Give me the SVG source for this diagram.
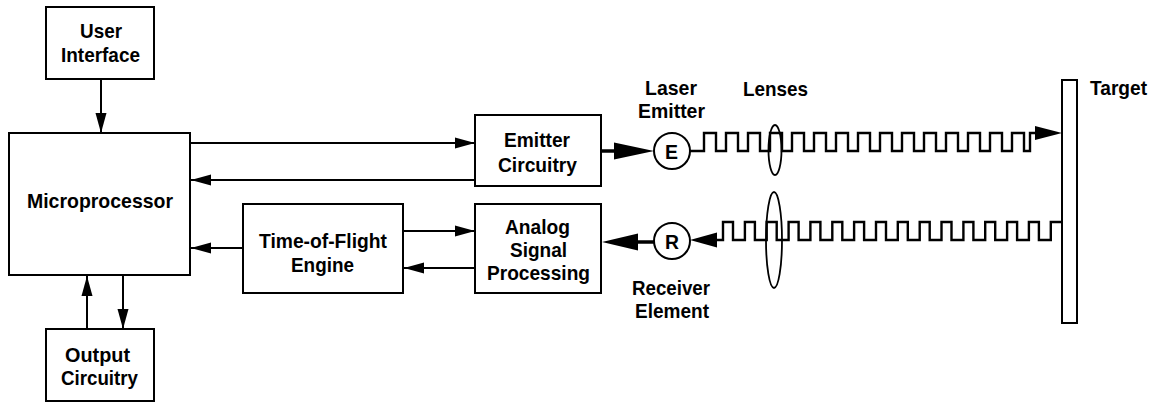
<svg xmlns="http://www.w3.org/2000/svg" width="1156" height="403" viewBox="0 0 1156 403">
<style>
  .box { fill: #fff; stroke: #000; stroke-width: 2; }
  .ln { fill: none; stroke: #000; stroke-width: 2; }
  .thick { fill: none; stroke: #000; stroke-width: 3.5; }
  .wave { fill: none; stroke: #000; stroke-width: 2.4; stroke-linejoin: miter; }
  .lens { fill: none; stroke: #000; stroke-width: 1.8; }
  .head { fill: #000; stroke: none; }
  text { font-family: "Liberation Sans", Arial, sans-serif; font-weight: bold; font-size: 21px; fill: #000; }
</style>
<defs>
  <marker id="arr" markerUnits="userSpaceOnUse" markerWidth="21" markerHeight="12" refX="20" refY="6" orient="auto">
    <path d="M0,0.5 L20,6 L0,11.5 z" fill="#000"/>
  </marker>
</defs>
<rect width="1156" height="403" fill="#fff"/>

<g id="connectors">
  <line class="ln" x1="101" y1="79" x2="101" y2="133" marker-end="url(#arr)"/>
  <line class="ln" x1="190" y1="143" x2="475" y2="143" marker-end="url(#arr)"/>
  <line class="ln" x1="475" y1="180" x2="191" y2="180" marker-end="url(#arr)"/>
  <line class="ln" x1="243" y1="248" x2="191" y2="248" marker-end="url(#arr)"/>
  <line class="ln" x1="403" y1="231" x2="475" y2="231" marker-end="url(#arr)"/>
  <line class="ln" x1="475" y1="268" x2="404" y2="268" marker-end="url(#arr)"/>
  <line class="ln" x1="87" y1="329" x2="87" y2="276" marker-end="url(#arr)"/>
  <line class="ln" x1="123" y1="275" x2="123" y2="329" marker-end="url(#arr)"/>
  <line class="thick" x1="601" y1="151" x2="616" y2="151"/>
  <polygon class="head" points="614,142.5 654,151 614,159.5"/>
  <line class="thick" x1="636" y1="242" x2="654" y2="242"/>
  <polygon class="head" points="602,242 638,233.5 638,250.5"/>
  <path class="wave" d="M690,151 H704 V133 H716 V151 H726 V133 H738 V151 H748 V133 H760 V151 H770 V133 H782 V151 H792 V133 H804 V151 H814 V133 H826 V151 H836 V133 H848 V151 H858 V133 H870 V151 H880 V133 H892 V151 H902 V133 H914 V151 H924 V133 H936 V151 H946 V133 H958 V151 H968 V133 H980 V151 H990 V133 H1002 V151 H1012 V133 H1024 V151 H1030 V133 H1037"/>
  <polygon class="head" points="1035,126 1062,133 1035,140"/>
  <path class="wave" d="M716,240 H723 V222 H733 V240 H744.9 V222 H754.9 V240 H766.7 V222 H776.7 V240 H788.6 V222 H798.6 V240 H810.4 V222 H820.4 V240 H832.3 V222 H842.3 V240 H854.1 V222 H864.1 V240 H876 V222 H886 V240 H897.8 V222 H907.8 V240 H919.7 V222 H929.7 V240 H941.5 V222 H951.5 V240 H963.4 V222 H973.4 V240 H985.2 V222 H995.2 V240 H1007.1 V222 H1017.1 V240 H1028.9 V222 H1038.9 V240 H1050.8 V222 H1062"/>
  <polygon class="head" points="690,240 717,232.5 717,247.5"/>
</g>

<g id="user-interface">
  <rect class="box" x="46" y="7" width="108" height="72"/>
  <text x="80" y="38" textLength="42" lengthAdjust="spacingAndGlyphs">User</text>
  <text x="61" y="62" textLength="79" lengthAdjust="spacingAndGlyphs">Interface</text>
</g>

<g id="microprocessor">
  <rect class="box" x="9" y="133" width="181" height="142"/>
  <text x="27" y="208" textLength="146" lengthAdjust="spacingAndGlyphs">Microprocessor</text>
</g>

<g id="output-circuitry">
  <rect class="box" x="46" y="329" width="108" height="72"/>
  <text x="65" y="362" textLength="65" lengthAdjust="spacingAndGlyphs">Output</text>
  <text x="61" y="385" textLength="77" lengthAdjust="spacingAndGlyphs">Circuitry</text>
</g>

<g id="time-of-flight-engine">
  <rect class="box" x="243" y="204" width="160" height="89"/>
  <text x="259" y="248" textLength="128" lengthAdjust="spacingAndGlyphs">Time-of-Flight</text>
  <text x="291" y="272" textLength="63" lengthAdjust="spacingAndGlyphs">Engine</text>
</g>

<g id="emitter-circuitry">
  <rect class="box" x="475" y="115" width="126" height="71"/>
  <text x="504" y="147" textLength="66" lengthAdjust="spacingAndGlyphs">Emitter</text>
  <text x="498" y="172" textLength="79" lengthAdjust="spacingAndGlyphs">Circuitry</text>
</g>

<g id="analog-signal-processing">
  <rect class="box" x="475" y="204" width="126" height="89"/>
  <text x="505" y="234" textLength="65" lengthAdjust="spacingAndGlyphs">Analog</text>
  <text x="510" y="257" textLength="57" lengthAdjust="spacingAndGlyphs">Signal</text>
  <text x="487" y="280" textLength="103" lengthAdjust="spacingAndGlyphs">Processing</text>
</g>

<g id="laser-emitter">
  <circle class="box" cx="672" cy="151" r="18"/>
  <text x="665" y="159" textLength="13" lengthAdjust="spacingAndGlyphs">E</text>
  <text x="645" y="95" textLength="52" lengthAdjust="spacingAndGlyphs">Laser</text>
  <text x="638" y="118" textLength="67" lengthAdjust="spacingAndGlyphs">Emitter</text>
</g>

<g id="receiver-element">
  <circle class="box" cx="672" cy="241" r="18"/>
  <text x="665" y="249" textLength="14" lengthAdjust="spacingAndGlyphs">R</text>
  <text x="632" y="295" textLength="78" lengthAdjust="spacingAndGlyphs">Receiver</text>
  <text x="635" y="318" textLength="74" lengthAdjust="spacingAndGlyphs">Element</text>
</g>

<g id="lenses">
  <ellipse class="lens" cx="775" cy="150" rx="6.5" ry="25"/>
  <ellipse class="lens" cx="774" cy="240" rx="8" ry="48"/>
  <text x="743" y="96" textLength="65" lengthAdjust="spacingAndGlyphs">Lenses</text>
</g>

<g id="target">
  <rect class="box" x="1062" y="80" width="15" height="243"/>
  <text x="1090" y="95" textLength="57" lengthAdjust="spacingAndGlyphs">Target</text>
</g>
</svg>
